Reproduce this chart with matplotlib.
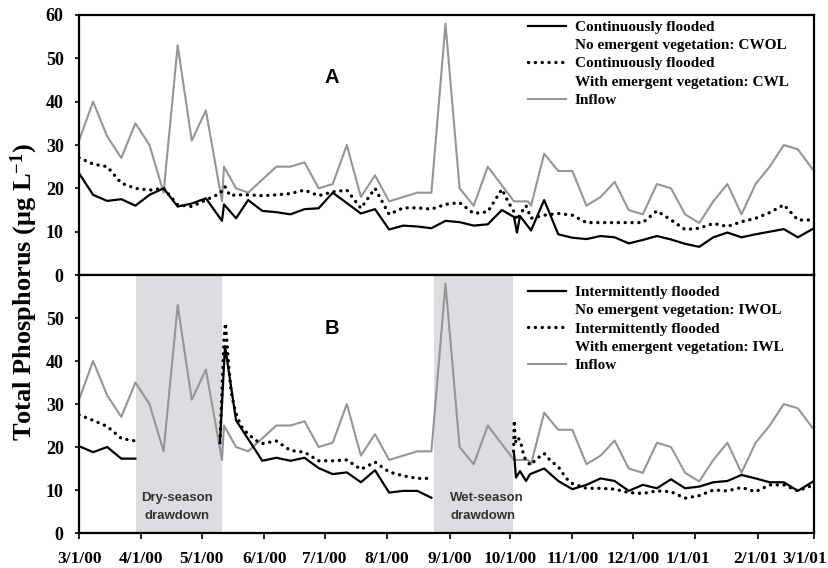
import numpy as np
import matplotlib
matplotlib.use("Agg")
import matplotlib.pyplot as plt
import matplotlib.dates as mdates
from matplotlib.lines import Line2D
from matplotlib.transforms import ScaledTranslation

# Sampling days are counted from 1 March 2000
START = "2000-03-01"

inflow_day = [0, 7, 14, 21, 28, 35, 42, 49, 56, 63, 71, 72, 78, 84, 91, 98, 105,
              112, 119, 126, 133, 140, 147, 154, 161, 168, 175, 182, 189, 196,
              203, 216, 223, 224.5, 231, 238, 245, 252, 259, 266, 273, 280, 287,
              294, 301, 308, 315, 322, 329, 336, 343, 350, 357, 365]
inflow_tp = [31, 40, 32, 27, 35, 30, 19, 53, 31, 38, 17, 25, 20, 19, 22, 25, 25,
             26, 20, 21, 30, 18, 23, 17, 18, 19, 19, 58, 20, 16,
             25, 17, 17, 16, 28, 24, 24, 16, 18, 21.5, 15, 14, 21,
             20, 14, 12, 17, 21, 14, 21, 25, 30, 29, 24]

# Panel A: continuously flooded
cwol_day = [0, 7, 14, 21, 28, 35, 42, 49, 56, 63, 71, 72, 78, 84, 91, 98, 105,
            112, 119, 126, 133, 140, 147, 154, 161, 168, 175, 182, 189, 196,
            203, 210, 216, 217.5, 219, 224.5, 231, 238, 245, 252, 259, 266, 273,
            280, 287, 294, 301, 308, 315, 322, 329, 336, 343, 350, 357, 365]
cwol_tp = [23.5, 18.5, 17.1, 17.5, 16, 18.5, 20, 15.8, 16.5, 17.7, 12.5, 16.3,
           13.1, 17.3, 14.8, 14.5, 14, 15.2, 15.4, 19, 16.6, 14.2, 15.2, 10.5,
           11.4, 11.2, 10.8, 12.5, 12.2, 11.4, 11.7, 15, 13.4, 9.8, 13.6, 10.3,
           17.3, 9.4, 8.6, 8.3, 9, 8.7, 7.3, 8.1, 9, 8.2, 7.2, 6.5, 8.7, 9.8,
           8.7, 9.4, 10, 10.6, 8.7, 10.8]

cwl_day = [0, 7, 14, 21, 28, 35, 42, 49, 56, 63, 70, 72.5, 75, 78, 84, 91, 98,
           105, 112, 119, 126, 133, 140, 147, 154, 161, 168, 175, 182, 189, 196,
           203, 210, 213, 216, 217.5, 219, 222, 224.5, 231, 238, 245, 252, 259,
           266, 273, 280, 287, 294, 301, 308, 315, 322, 329, 336, 343, 350, 357,
           365]
cwl_tp = [27.1, 25.6, 25, 21.2, 20, 19.6, 20, 16.2, 15.8, 17.3, 18.8, 20.4,
          18.3, 18.5, 18.5, 18.3, 18.5, 18.8, 19.6, 18.3, 19.2, 19.6, 15.4, 20,
          14, 15.5, 15.5, 15.2, 16.3, 16.7, 14.2, 14.6, 19.8, 17, 14.6, 12.7,
          14, 16, 13.1, 13.8, 14.2, 13.8, 12.1, 12.1, 12.1, 12.1, 12.1, 14.8,
          12.7, 10.5, 10.8, 11.9, 11.2, 12.3, 13.1, 14.4, 16.2, 12.7, 12.7]

# Panel B: intermittently flooded (nan = no water during drawdown)
iwol_day = [0, 7, 14, 21, 28, 50, 70, 72.5, 78, 91, 98, 105, 112, 119, 126,
            133, 140, 147, 154, 161, 168, 175, 195, 216, 217, 219, 222, 224,
            231, 238, 245, 252, 259, 266, 273, 280, 287, 294, 301, 308, 315,
            322, 329, 336, 343, 350, 357, 365]
iwol_tp = [20.2, 18.8, 20, 17.3, 17.3, np.nan, 21, 43.5, 26.2, 16.8, 17.5, 16.8,
           17.5, 15.1, 13.7, 14.1, 11.8, 14.6, 9.4, 9.8, 9.8, 8.2, np.nan, 18.8,
           12.9, 14.4, 12.1, 13.7, 15, 12.1, 10.2, 11.2, 12.7, 12.1, 9.8, 11.2,
           10.4, 12.5, 10.4, 10.8, 11.8, 12.1, 13.5, 12.7, 11.8, 11.8, 9.8, 12.1]

iwl_day = [0, 7, 14, 21, 28, 50, 70, 71, 72, 72.7, 73.5, 74.5, 75.5, 77, 78.5,
           81, 84, 88, 91, 98, 105, 112, 119, 126, 133, 140, 147, 154, 161, 168,
           175, 195, 215.8, 216.2, 216.6, 218, 219.5, 221, 224, 227.5, 231, 234,
           238, 242, 245, 252, 259, 266, 273, 280, 287, 294, 301, 308, 315, 322,
           329, 336, 343, 350, 357, 365]
iwl_tp = [27.5, 26.2, 24.8, 22, 21.4, np.nan, 21, 33, 45, 48.8, 44, 38, 33, 29.5,
          27, 24.5, 23, 21.5, 20.8, 21.4, 19.2, 18.8, 16.8, 16.8, 17, 14.8,
          16.5, 14.2, 13.3, 12.7, 12.7, np.nan, 19, 26.2, 21, 22.3, 20.8, 17.7,
          15.8, 17.3, 18.5, 16.9, 15.4, 12.7, 11.5, 10.4, 10.4, 10.2, 9.4, 9.2,
          9.8, 9.6, 8.1, 8.7, 10, 9.8, 10.6, 9.6, 11.2, 11.2, 9.8, 11.2]

drawdown_start = [28.2, 176.5]
drawdown_end = [70.9, 215.7]
drawdown_text = ["Dry-season\ndrawdown", "Wet-season\ndrawdown"]

tick_dates = ["2000-03-01", "2000-04-01", "2000-05-01", "2000-06-01",
              "2000-07-01", "2000-08-01", "2000-09-01", "2000-10-01",
              "2000-11-01", "2000-12-01", "2001-01-01", "2001-02-01",
              "2001-03-01"]
tick_labels = ["3/1/00", "4/1/00", "5/1/00", "6/1/00", "7/1/00", "8/1/00",
               "9/1/00", "10/1/00", "11/1/00", "12/1/00", "1/1/01", "2/1/01",
               "3/1/01"]

legend_a = ["Continuously flooded", "No emergent vegetation: CWOL",
            "Continuously flooded", "With emergent vegetation: CWL", "Inflow"]
legend_b = ["Intermittently flooded", "No emergent vegetation: IWOL",
            "Intermittently flooded", "With emergent vegetation: IWL", "Inflow"]

SERIF = "Liberation Serif"
SANS = "Liberation Sans"
plt.rcParams["mathtext.fontset"] = "custom"
plt.rcParams["mathtext.rm"] = "Liberation Serif:bold"
plt.rcParams["mathtext.it"] = "Liberation Serif:bold"
plt.rcParams["mathtext.bf"] = "Liberation Serif:bold"

x0 = mdates.date2num(np.datetime64(START))


def to_x(days):
    return x0 + np.asarray(days, dtype=float)


GRAY = "#959595"
SOLID = dict(color="black", lw=1.6)
DOTTED = dict(color="black", lw=2.4, linestyle=(0, (0.05, 2.0)),
              dash_capstyle="round")

fig = plt.figure(figsize=(8.29, 5.68), dpi=100)
ax_a = fig.add_axes([0.0953, 0.5158, 0.8866, 0.4578])
ax_b = fig.add_axes([0.0953, 0.0616, 0.8866, 0.4542])

# shaded drawdown periods (panel B only)
for s, e, txt, ha, xt in zip(drawdown_start, drawdown_end, drawdown_text,
                             ["center", "left"], [48.6, 184.3]):
    ax_b.axvspan(to_x(s), to_x(e), color="#dcdde0", lw=0, zorder=0)
    ax_b.text(to_x(xt), 6.0, txt, ha=ha, va="center", multialignment=ha,
              fontsize=9.5, fontweight="bold", family=SANS, color="#333333",
              linespacing=1.7)

ax_a.plot(to_x(inflow_day), inflow_tp, color=GRAY, lw=1.5, zorder=2)
ax_a.plot(to_x(cwol_day), cwol_tp, zorder=3, **SOLID)
ax_a.plot(to_x(cwl_day), cwl_tp, zorder=4, **DOTTED)

ax_b.plot(to_x(inflow_day), inflow_tp, color=GRAY, lw=1.5, zorder=2)
ax_b.plot(to_x(iwol_day), iwol_tp, zorder=3, **SOLID)
ax_b.plot(to_x(iwl_day), iwl_tp, zorder=4, **DOTTED)

handles = [Line2D([], [], **SOLID), Line2D([], [], color="none"),
           Line2D([], [], **DOTTED), Line2D([], [], color="none"),
           Line2D([], [], color=GRAY, lw=1.5)]

for ax, labels, top, letter, ly in [(ax_a, legend_a, 0.98, "A", 45.5),
                                    (ax_b, legend_b, 0.96, "B", 47.6)]:
    ax.set_xlim(to_x(0), to_x(365))
    ax.set_ylim(0, 60)
    for sp in ax.spines.values():
        sp.set_linewidth(1.6)
    ax.tick_params(axis="y", direction="out", length=3, width=1.2, pad=8)
    ax.tick_params(axis="x", direction="out", length=4, width=1.2, pad=9)
    ax.text(to_x(125.7), ly, letter, ha="center", va="center", fontsize=14.5,
            fontweight="bold", family=SANS)
    ax.legend(handles, labels, loc="upper left",
              bbox_to_anchor=(0.611, top), frameon=False, borderpad=0,
              borderaxespad=0, handlelength=2.45, handletextpad=0.6,
              labelspacing=0.3, prop=dict(family=SERIF, weight="bold",
                                          size=11))

ax_a.set_yticks(range(0, 61, 10))
ax_b.set_yticks(range(0, 51, 10))
ax_a.set_xticks([])
ax_b.set_xticks(mdates.date2num(np.array(tick_dates, dtype="datetime64[D]")))
ax_b.set_xticklabels(tick_labels)
for ax in (ax_a, ax_b):
    for lab in ax.get_yticklabels():
        lab.set_family(SERIF)
        lab.set_fontweight("bold")
        lab.set_fontsize(13)

# last month labels sit a little left of their ticks in the original
label_shift_px = [0, 0, 0, 0, 0, 0, 0, 0, 0, 0, -7, -2, -9]
for lab, dx in zip(ax_b.get_xticklabels(), label_shift_px):
    lab.set_family(SERIF)
    lab.set_fontweight("bold")
    lab.set_fontsize(12.5)
    if dx:
        lab.set_transform(lab.get_transform() +
                          ScaledTranslation(dx / 100, 0, fig.dpi_scale_trans))

fig.text(0.029, 1 - 291.7 / 568, r"Total Phosphorus (μg L$^{-1}$)",
         rotation=90, ha="center", va="center", family=SERIF,
         fontweight="bold", fontsize=19)

fig.savefig("out.png", dpi=100)
